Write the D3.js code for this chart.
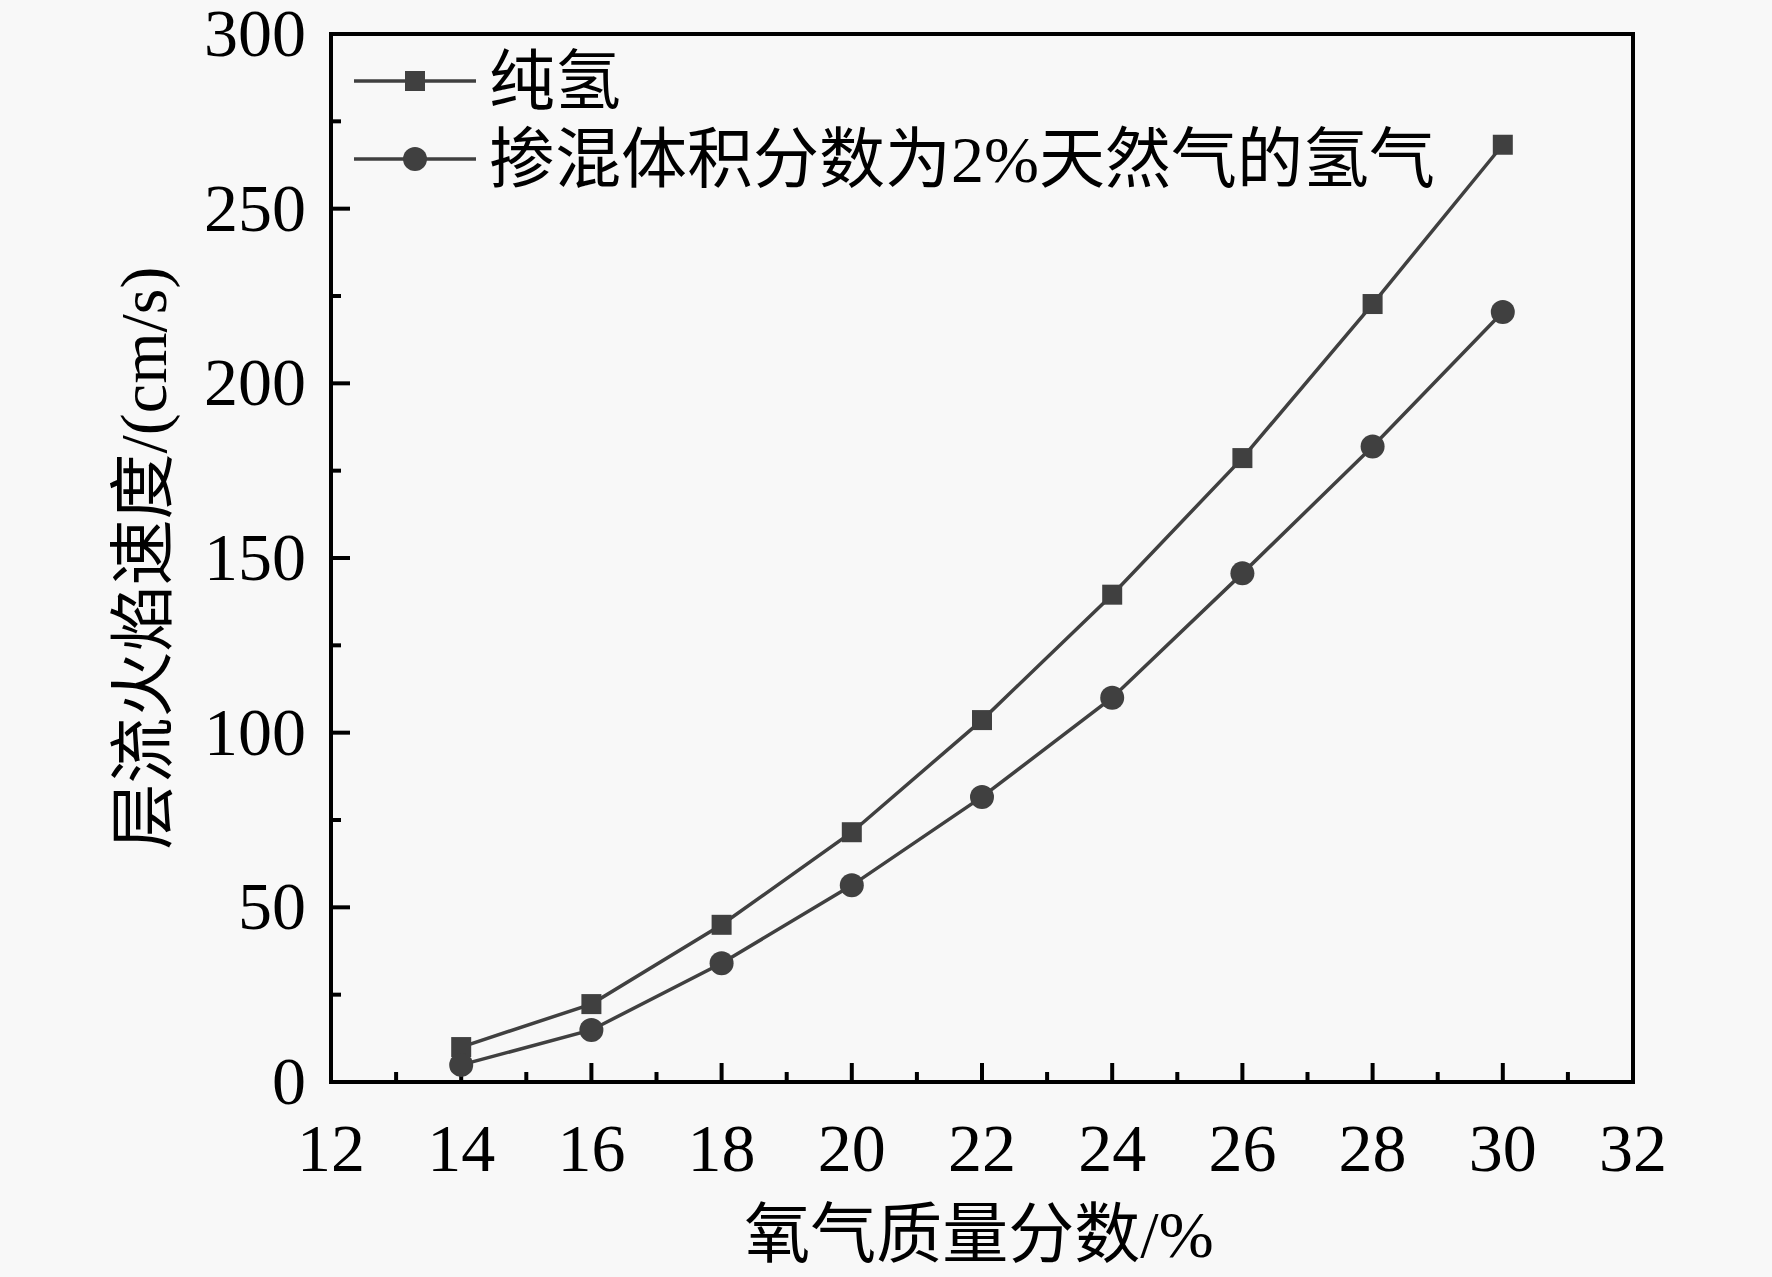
<!DOCTYPE html>
<html><head><meta charset="utf-8">
<script src="https://cdn.jsdelivr.net/npm/d3@7"></script>
<style>
html,body{margin:0;padding:0;background:#f8f8f8;}
svg{display:block;}
text{font-family:"Liberation Serif","Noto Sans CJK SC",serif;fill:#000;}
</style></head><body>
<script>
const oxygen = [14,16,18,20,22,24,26,28,30];
const pureH2 = [10.0,22.3,45.0,71.5,103.6,139.5,178.6,222.7,268.3];
const blendH2 = [4.9,14.9,34.0,56.3,81.6,110.0,145.6,181.9,220.4];
const seriesNames = ["纯氢","掺混体积分数为2%天然气的氢气"];
const xTicks = [12,14,16,18,20,22,24,26,28,30,32];
const yTicks = [0,50,100,150,200,250,300];
const xTitle = "氧气质量分数/%";
const yTitle = "层流火焰速度/(cm/s)";

const W=1772,H=1277;
const L=331,R=1633,T=34,B=1082;
const lineColor="#404040";
const svg=d3.select("body").append("svg").attr("width",W).attr("height",H);
svg.append("rect").attr("width",W).attr("height",H).attr("fill","#f8f8f8");
const x=d3.scaleLinear().domain([12,32]).range([L,R]);
const y=d3.scaleLinear().domain([0,300]).range([B,T]);

// frame
svg.append("rect").attr("x",L).attr("y",T).attr("width",R-L).attr("height",B-T)
  .attr("fill","none").attr("stroke","#000").attr("stroke-width",4);

// x axis
const xMinor=d3.range(13,32,2);
const gx=svg.append("g");
gx.selectAll("line.maj").data(xTicks.slice(1,-1)).join("line")
  .attr("x1",d=>x(d)).attr("x2",d=>x(d)).attr("y1",B).attr("y2",B-19)
  .attr("stroke","#000").attr("stroke-width",4);
gx.selectAll("line.min").data(xMinor).join("line")
  .attr("x1",d=>x(d)).attr("x2",d=>x(d)).attr("y1",B).attr("y2",B-10)
  .attr("stroke","#000").attr("stroke-width",4);
gx.selectAll("text").data(xTicks).join("text")
  .attr("x",d=>x(d)).attr("y",B+89).attr("text-anchor","middle")
  .attr("font-size",68).text(d=>d);

// y axis
const yMinor=d3.range(25,300,50);
const gy=svg.append("g");
gy.selectAll("line.maj").data(yTicks.slice(1,-1)).join("line")
  .attr("x1",L).attr("x2",L+19).attr("y1",d=>y(d)).attr("y2",d=>y(d))
  .attr("stroke","#000").attr("stroke-width",4);
gy.selectAll("line.min").data(yMinor).join("line")
  .attr("x1",L).attr("x2",L+10).attr("y1",d=>y(d)).attr("y2",d=>y(d))
  .attr("stroke","#000").attr("stroke-width",4);
gy.selectAll("text").data(yTicks).join("text")
  .attr("x",L-25).attr("y",d=>y(d)+22).attr("text-anchor","end")
  .attr("font-size",68).text(d=>d);

// titles
svg.append("text").attr("x",(L+R)/2-3).attr("y",1257).attr("text-anchor","middle")
  .attr("font-size",66).text(xTitle);
svg.append("text").attr("transform",`translate(166,${(T+B)/2}) rotate(-90)`)
  .attr("text-anchor","middle").attr("font-size",66).text(yTitle);

// series
const line=d3.line().x(d=>x(d[0])).y(d=>y(d[1]));
const s1=oxygen.map((o,i)=>[o,pureH2[i]]);
const s2=oxygen.map((o,i)=>[o,blendH2[i]]);
[s1,s2].forEach(s=>{
  svg.append("path").datum(s).attr("d",line).attr("fill","none")
    .attr("stroke",lineColor).attr("stroke-width",3.5);
});
svg.append("g").selectAll("rect").data(s1).join("rect")
  .attr("x",d=>x(d[0])-10).attr("y",d=>y(d[1])-10).attr("width",20).attr("height",20)
  .attr("fill",lineColor);
svg.append("g").selectAll("circle").data(s2).join("circle")
  .attr("cx",d=>x(d[0])).attr("cy",d=>y(d[1])).attr("r",12)
  .attr("fill",lineColor);

// legend
const lg=svg.append("g");
const rows=[81,159];
rows.forEach((ry,i)=>{
  lg.append("line").attr("x1",354).attr("x2",476).attr("y1",ry).attr("y2",ry)
    .attr("stroke",lineColor).attr("stroke-width",3.5);
  if(i===0) lg.append("rect").attr("x",415-10).attr("y",ry-10).attr("width",20).attr("height",20).attr("fill",lineColor);
  else lg.append("circle").attr("cx",415).attr("cy",ry).attr("r",12).attr("fill",lineColor);
  lg.append("text").attr("x",489).attr("y",ry+23).attr("font-size",66).text(seriesNames[i]);
});
</script>
</body></html>
